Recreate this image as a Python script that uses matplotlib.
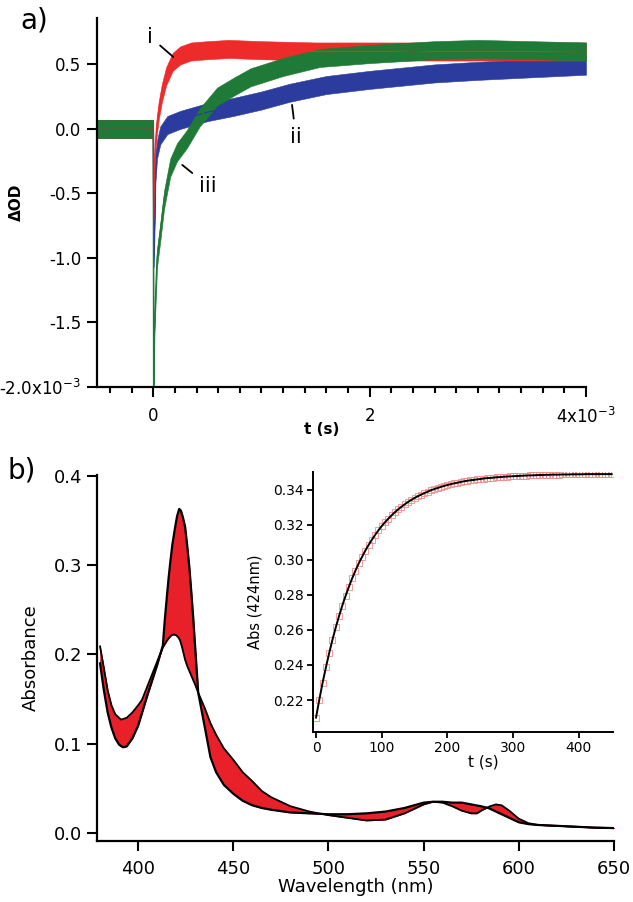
import numpy as np
import matplotlib
matplotlib.use("Agg")
import matplotlib.pyplot as plt

plt.rcParams['font.family'] = ['DejaVu Sans']

# ---- panel a: transient traces (dOD in units of 1e-3, t in ms) ----
t_red = [-0.52, -0.3, -0.1, 0.0, 0.005, 0.015, 0.03, 0.05, 0.08, 0.12, 0.18, 0.25,
         0.35, 0.5, 0.7, 1.0, 1.5, 2.0, 2.5, 3.0, 3.5, 4.0]
od_red = [0.0, 0.0, 0.0, 0.0, -0.7, -0.2, 0.0, 0.14, 0.28, 0.41, 0.52, 0.57,
          0.6, 0.61, 0.62, 0.61, 0.6, 0.6, 0.6, 0.6, 0.6, 0.6]

t_blue = [-0.52, -0.3, -0.1, 0.0, 0.006, 0.02, 0.035, 0.065, 0.13, 0.25, 0.5, 0.74,
          1.0, 1.26, 1.6, 2.0, 2.6, 3.0, 3.5, 4.0]
od_blue = [0.0, 0.0, 0.0, 0.0, -1.0, -0.35, -0.16, -0.05, 0.03, 0.07, 0.13, 0.17,
           0.22, 0.28, 0.34, 0.38, 0.43, 0.45, 0.47, 0.49]

t_green = [-0.52, -0.3, -0.1, 0.0, 0.003, 0.012, 0.035, 0.065, 0.1, 0.157, 0.22, 0.31,
           0.43, 0.59, 0.75, 0.9, 1.2, 1.54, 2.0, 2.6, 3.0, 3.5, 4.0]
od_green = [0.0, 0.0, 0.0, 0.0, -2.05, -1.5, -1.0, -0.8, -0.55, -0.3, -0.18, -0.08,
            0.09, 0.25, 0.33, 0.40, 0.48, 0.55, 0.58, 0.61, 0.62, 0.61, 0.6]

# ---- panel b: spectra ----
wl_final = [380, 382, 384, 386, 388, 390, 392, 394, 397, 400, 405, 410, 413, 414, 415.3,
            416, 417, 418, 419.5, 420.5, 421.6, 422.5, 423.5, 424.7, 426, 427, 428, 429,
            430, 431.6, 435, 438, 441, 445, 450, 455, 460, 465, 470,
            480, 490, 500, 510, 520, 530, 540, 550, 555, 560, 565, 570, 575, 580, 584,
            588, 592, 596, 600, 605, 610, 620, 630, 640, 650]
abs_final = [0.19, 0.16, 0.135, 0.118, 0.106, 0.099, 0.096, 0.097, 0.106, 0.12, 0.155,
             0.188, 0.21, 0.238, 0.269, 0.285, 0.305, 0.323, 0.343, 0.355, 0.363, 0.361,
             0.354, 0.343, 0.318, 0.296, 0.269, 0.24, 0.208, 0.157, 0.119, 0.085,
             0.068, 0.054, 0.044, 0.036, 0.031, 0.028, 0.026, 0.023, 0.022, 0.021, 0.021,
             0.022, 0.024, 0.028, 0.034, 0.035, 0.035, 0.034, 0.034, 0.032, 0.030, 0.028,
             0.024, 0.020, 0.016, 0.012, 0.010, 0.009, 0.008, 0.007, 0.006, 0.0055]

wl_initial = [380, 382, 384, 386, 388, 391, 394, 397, 400, 402, 405, 410, 413, 415, 416,
              417, 418, 419, 420, 421, 422, 423, 424.7, 426, 428, 430, 431.6, 435, 438,
              441, 445, 450, 455, 460, 465, 470,
              480, 490, 500, 510, 520, 530, 540, 550, 555, 560, 565, 570, 575, 578, 581,
              585, 588, 591, 595, 600, 605, 610, 620, 630, 640, 650]
abs_initial = [0.209, 0.185, 0.16, 0.143, 0.133, 0.127, 0.129, 0.135, 0.143, 0.149, 0.165,
               0.192, 0.208, 0.215, 0.218, 0.2205, 0.222, 0.2223, 0.2215, 0.2195, 0.216,
               0.209, 0.194, 0.186, 0.176, 0.166, 0.157, 0.14, 0.123,
               0.11, 0.095, 0.082, 0.068, 0.058, 0.047, 0.04, 0.03, 0.024, 0.020, 0.017,
               0.014, 0.015, 0.022, 0.032, 0.035, 0.034, 0.030, 0.025, 0.022, 0.022, 0.026,
               0.030, 0.032, 0.031, 0.025, 0.016, 0.011, 0.009, 0.008, 0.007, 0.006, 0.0055]

# ---- inset: absorbance at 424 nm vs time ----
t_kin = list(range(0, 455, 5))
abs_424 = [0.210, 0.2203, 0.2299, 0.2386, 0.2468, 0.2544, 0.2614, 0.2679, 0.2739, 0.2794,
           0.2846, 0.2894, 0.2938, 0.2979, 0.3016, 0.3052, 0.3084, 0.3114, 0.3142, 0.3168,
           0.3192, 0.3214, 0.3234, 0.3253, 0.3271, 0.3287, 0.3302, 0.3316, 0.3329, 0.3341,
           0.3352, 0.3362, 0.3371, 0.3380, 0.3388, 0.3396, 0.3403, 0.3409, 0.3415, 0.3421,
           0.3426, 0.3431, 0.3435, 0.3439, 0.3443, 0.3447, 0.3450, 0.3453, 0.3455, 0.3458,
           0.3460, 0.3463, 0.3465, 0.3466, 0.3468, 0.3470, 0.3471, 0.3473, 0.3474, 0.3475,
           0.3476, 0.3477, 0.3478, 0.3479, 0.3480, 0.3481, 0.3481, 0.3482, 0.3483, 0.3483,
           0.3484, 0.3484, 0.3485, 0.3485, 0.3485, 0.3486, 0.3486, 0.3486, 0.3487, 0.3487,
           0.3487, 0.3487, 0.3488, 0.3488, 0.3488, 0.3488, 0.3488, 0.3488, 0.3488, 0.3488,
           0.3488]

NOISE = 0.07
RED, BLUE, GREEN = '#ee2b2b', '#2b3c9e', '#1e7a36'

fig = plt.figure(figsize=(6.33, 9.02), dpi=100)

# ================= panel a =================
ax = fig.add_axes([0.1532, 0.5710, 0.7725, 0.4091])
for t, od, c in [(t_blue, od_blue, BLUE), (t_red, od_red, RED), (t_green, od_green, GREEN)]:
    t = np.array(t)
    od = np.array(od)
    ax.fill_between(t, od - NOISE, od + NOISE, color=c, lw=0.4)
    ax.plot(t, od, color=c, lw=0.9)

ax.set_xlim(-0.52, 4.0)
ax.set_ylim(-2.0, 0.86)
ax.set_yticks([-2.0, -1.5, -1.0, -0.5, 0.0, 0.5])
ax.set_yticklabels([r'-2.0x10$^{-3}$', '-1.5', '-1.0', '-0.5', '0.0', '0.5'])
ax.set_xticks([0, 2, 4])
ax.set_xticklabels(['0', '2', r'4x10$^{-3}$'])
ax.set_xticks(np.arange(-0.4, 4.0, 0.2), minor=True)
for s in ['top', 'right']:
    ax.spines[s].set_visible(False)
for s in ['left', 'bottom']:
    ax.spines[s].set_linewidth(1.6)
ax.tick_params(which='major', direction='out', length=7.5, width=1.5, labelsize=12, pad=4)
ax.tick_params(axis='x', which='major', pad=7)
ax.tick_params(which='minor', direction='out', length=4.5, width=1.5)
ax.set_ylabel('ΔOD', fontsize=11, fontweight='bold')
ax.yaxis.set_label_coords(-0.15, 0.5)
ax.set_xlabel('t (s)', fontsize=11, fontweight='bold')
ax.xaxis.set_label_coords(0.46, -0.095)

arrow = dict(arrowstyle='-', color='black', lw=1.3, shrinkA=4, shrinkB=0)
ax.annotate('i', xy=(0.185, 0.558), xytext=(-0.028, 0.713), fontsize=15,
            ha='center', va='center', arrowprops=arrow)
ax.annotate('ii', xy=(1.283, 0.186), xytext=(1.32, -0.062), fontsize=15,
            ha='center', va='center', arrowprops=arrow)
ax.annotate('iii', xy=(0.268, -0.279), xytext=(0.508, -0.442), fontsize=15,
            ha='center', va='center', arrowprops=arrow)

fig.text(20 / 633, 1 - 20 / 902, 'a)', fontsize=20, ha='left', va='center')

# ================= panel b =================
bx = fig.add_axes([0.1532, 0.0676, 0.8167, 0.4058])
wl_grid = np.union1d(wl_final, wl_initial)
final_on_grid = np.interp(wl_grid, wl_final, abs_final)
init_on_grid = np.interp(wl_grid, wl_initial, abs_initial)
bx.fill_between(wl_grid, final_on_grid, init_on_grid, color='#e8202a', lw=0.5)
bx.plot(wl_initial, abs_initial, color='black', lw=1.3)
bx.plot(wl_final, abs_final, color='black', lw=1.6)

bx.set_xlim(378.4, 650)
bx.set_ylim(-0.009, 0.401)
bx.set_xticks([400, 450, 500, 550, 600, 650])
bx.set_yticks([0.0, 0.1, 0.2, 0.3, 0.4])
bx.set_yticklabels(['0.0', '0.1', '0.2', '0.3', '0.4'])
for s in ['top', 'right']:
    bx.spines[s].set_visible(False)
for s in ['left', 'bottom']:
    bx.spines[s].set_linewidth(1.6)
bx.tick_params(direction='out', length=7.5, width=1.5, labelsize=13, pad=3)
bx.tick_params(axis='x', pad=6)
bx.set_ylabel('Absorbance', fontsize=13)
bx.yaxis.set_label_coords(-0.11, 0.5)
bx.set_xlabel('Wavelength (nm)', fontsize=13)
bx.xaxis.set_label_coords(0.5, -0.1)

fig.text(8 / 633, 1 - 470 / 902, 'b)', fontsize=20, ha='left', va='center')

# ================= inset =================
ix = fig.add_axes([0.4945, 0.1885, 0.4739, 0.2882])
ix.patch.set_alpha(0)
ix.plot(t_kin, abs_424, 's', mfc='none', mec='#f28b8b', ms=5, mew=0.6)
ix.plot(t_kin, abs_424, color='black', lw=1.4)
ix.set_xlim(-4.6, 452)
ix.set_ylim(0.2018, 0.35)
ix.set_xticks([0, 100, 200, 300, 400])
ix.set_yticks([0.22, 0.24, 0.26, 0.28, 0.30, 0.32, 0.34])
ix.set_yticklabels(['0.22', '0.24', '0.26', '0.28', '0.30', '0.32', '0.34'])
for s in ['top', 'right']:
    ix.spines[s].set_visible(False)
for s in ['left', 'bottom']:
    ix.spines[s].set_linewidth(1.4)
ix.tick_params(direction='out', length=4.5, width=1.3, labelsize=10, pad=2)
ix.set_ylabel('Abs (424nm)', fontsize=10.5)
ix.yaxis.set_label_coords(-0.17, 0.5)
ix.set_xlabel('t (s)', fontsize=11)
ix.xaxis.set_label_coords(0.567, -0.085)

fig.savefig('out.png', dpi=100)
